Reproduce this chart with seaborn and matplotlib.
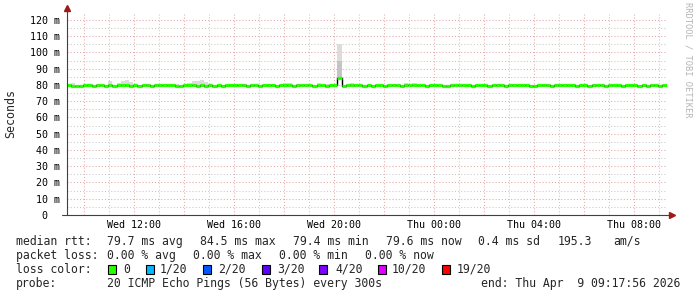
import numpy as np
import pandas as pd
import matplotlib
matplotlib.use("Agg")
import matplotlib.pyplot as plt
import matplotlib.dates as mdates
from matplotlib.ticker import MultipleLocator, FuncFormatter
from matplotlib.patches import Rectangle
import seaborn as sns

# SmokePing 風格: 24 小時, 每 10 分鐘一格 (ms)
start = pd.Timestamp("2026-04-08 09:17:56")
end = pd.Timestamp("2026-04-09 09:17:56")

median_ms = [
    79.7, 79.6, 79.2, 79.3, 79.7, 79.7, 79.6, 79.7, 79.7, 79.2, 79.7, 79.6,
    79.7, 80.3, 79.7, 79.6, 79.7, 79.2, 79.7, 79.7, 79.2, 79.7, 79.7, 79.7,
    79.7, 79.7, 79.6, 79.2, 79.7, 79.7, 79.7, 79.2, 79.7, 79.6, 79.7, 79.2,
    79.7, 79.2, 79.7, 79.7, 79.7, 79.7, 79.7, 79.2, 79.7, 79.7, 79.6, 79.7,
    79.7, 79.7, 79.2, 79.7, 79.7, 79.7, 79.2, 79.7, 79.7, 79.7, 79.7, 79.2,
    79.7, 79.7, 79.6, 79.7, 79.7, 84.5, 79.2, 79.7, 80.2, 79.7, 79.7, 79.6,
    79.7, 79.2, 79.7, 79.7, 79.2, 79.7, 79.7, 79.7, 79.2, 79.7, 79.7, 79.7,
    79.7, 79.7, 79.2, 79.7, 79.7, 79.7, 79.2, 79.2, 79.7, 79.7, 79.7, 79.7,
    79.7, 79.2, 79.7, 79.7, 79.7, 79.2, 79.7, 79.7, 79.7, 79.2, 79.7, 79.7,
    79.7, 79.7, 79.7, 79.2, 79.2, 79.7, 79.7, 79.7, 79.2, 79.7, 79.7, 79.7,
    79.7, 79.7, 79.2, 79.7, 79.7, 79.2, 79.7, 79.7, 79.7, 79.2, 79.7, 79.7,
    79.7, 79.2, 79.7, 79.7, 79.7, 79.2, 79.7, 79.2, 79.7, 79.7, 79.2, 79.7,
]
smoke_hi_ms = [
    79.7, 81.0, 79.2, 79.3, 79.7, 79.7, 79.6, 79.7, 79.7, 79.2, 82.2, 79.6,
    81.5, 82.5, 83.0, 81.8, 79.7, 79.2, 79.7, 79.7, 79.2, 79.7, 79.7, 79.7,
    79.7, 80.6, 80.6, 79.2, 79.7, 81.5, 82.5, 82.3, 83.2, 82.0, 79.7, 79.2,
    79.7, 79.2, 79.7, 79.7, 79.7, 80.7, 80.7, 79.2, 79.7, 79.7, 79.6, 79.7,
    79.7, 79.7, 79.2, 79.7, 81.5, 81.0, 79.2, 79.7, 79.7, 79.7, 80.6, 79.2,
    81.0, 79.7, 80.7, 79.7, 79.7, 105.5, 79.2, 79.7, 81.0, 80.6, 79.7, 79.6,
    79.7, 79.2, 79.7, 79.7, 79.2, 79.7, 79.7, 79.7, 79.2, 81.0, 79.7, 81.0,
    79.7, 79.7, 79.2, 79.7, 79.7, 79.7, 79.2, 79.2, 79.7, 79.7, 79.7, 79.7,
    79.7, 79.2, 79.7, 79.7, 79.7, 79.2, 79.7, 79.7, 79.7, 79.2, 79.7, 79.7,
    79.7, 79.7, 79.7, 79.2, 79.2, 79.7, 79.7, 79.7, 79.2, 79.7, 79.7, 79.7,
    79.7, 79.7, 79.2, 79.7, 79.7, 79.2, 79.7, 79.7, 79.7, 79.2, 79.7, 79.7,
    79.7, 79.2, 79.7, 79.7, 79.7, 79.2, 79.7, 79.2, 79.7, 79.7, 79.2, 79.7,
]
# 尖峰那格的煙霧較深的部分
smoke_mid_ms = list(median_ms)
smoke_mid_ms[65] = 95.0

loss_labels = ["0", "1/20", "2/20", "3/20", "4/20", "10/20", "19/20"]
loss_colors = ["#26ff00", "#00b8ff", "#0059ff", "#5e00ff", "#7e00ff", "#dd00ff", "#ff0000"]

rtt_parts = ["median rtt:", "79.7 ms avg", "84.5 ms max", "79.4 ms min", "79.6 ms now",
             "0.4 ms sd", "195.3", "am/s"]
loss_parts = ["packet loss:", "0.00 % avg", "0.00 % max", "0.00 % min", "0.00 % now"]
probe_parts = ["probe:", "20 ICMP Echo Pings (56 Bytes) every 300s"]
end_line = "end: Thu Apr  9 09:17:56 2026"

sns.set_style("white")
plt.rcParams['font.family'] = ['DejaVu Sans Mono', 'DejaVu Sans']

edges = pd.date_range(start, periods=len(median_ms) + 1, freq="10min")
xe = mdates.date2num(edges.to_pydatetime())
med = np.array(median_ms)
med_e = np.append(med, med[-1])

W, H = 697, 297
fig = plt.figure(figsize=(W / 100, H / 100), dpi=100)
ax = fig.add_axes([66.5 / W, 82 / H, 600 / W, 202 / H])

# 煙霧
ax.fill_between(xe, med_e, np.append(smoke_hi_ms, smoke_hi_ms[-1]), step="post",
                color="#dcdcdc", lw=0, zorder=2)
ax.fill_between(xe, med_e, np.append(smoke_mid_ms, smoke_mid_ms[-1]), step="post",
                color="#c4c4c4", lw=0, zorder=2)

# 中位數: 黑色階梯線 + 綠色 (loss 0) 粗線
df = pd.DataFrame({"t": xe, "median": med_e})
sns.lineplot(data=df, x="t", y="median", drawstyle="steps-post", color="black",
             lw=1, ax=ax, zorder=3)
ax.hlines(med, xe[:-1], xe[1:], colors=loss_colors[0], lw=2.3, zorder=4)

ax.set_xlim(mdates.date2num(start.to_pydatetime()), mdates.date2num(end.to_pydatetime()))
ax.set_ylim(0, 124.3)
ax.set_xlabel("")
ax.set_ylabel("")

ax.yaxis.set_major_locator(MultipleLocator(10))
ax.yaxis.set_minor_locator(MultipleLocator(5))
ax.yaxis.set_major_formatter(FuncFormatter(lambda v, p: "0  " if v == 0 else f"{int(round(v))} m"))
ax.xaxis.set_major_locator(mdates.HourLocator(byhour=range(0, 24, 2)))
ax.xaxis.set_minor_locator(mdates.HourLocator())


def fmt_x(v, p):
    d = mdates.num2date(v)
    return d.strftime("%a %H:%M") if d.hour % 4 == 0 else ""


ax.xaxis.set_major_formatter(FuncFormatter(fmt_x))

ax.grid(which="major", color="#e4a8a8", ls=(0, (1, 2)), lw=0.75)
ax.grid(which="minor", color="#c8c8c8", ls=(0, (1, 2)), lw=0.75)
ax.set_axisbelow(True)
ax.tick_params(axis="y", which="both", length=0, pad=4.8, labelsize=7.2, colors="black")
ax.tick_params(axis="x", which="both", length=2, width=0.7, pad=1.5, labelsize=7.2,
               color="#404040", labelcolor="black", direction="out")
for s in ax.spines.values():
    s.set_visible(False)

# 座標軸與箭頭
ax.plot([-0.0075, 1.008], [0, 0], transform=ax.transAxes, clip_on=False, color="#404040", lw=0.8, zorder=5)
ax.plot([0, 0], [0, 1.02], transform=ax.transAxes, clip_on=False, color="#404040", lw=0.8, zorder=5)
ax.plot([1.009], [0], marker=">", ms=4, color="#a01818", transform=ax.transAxes, clip_on=False, zorder=6)
ax.plot([0], [1.025], marker="^", ms=4, color="#a01818", transform=ax.transAxes, clip_on=False, zorder=6)

fig.text(11 / W, 1 - 114 / H, "Seconds", rotation=90, ha="center", va="center", size=8.4)
fig.text(688 / W, 1 - 60 / H, "RRDTOOL / TOBI OETIKER", rotation=270, ha="center", va="center",
         size=6.3, color="#b4b4b4")

# 圖例文字 (照 rrdtool 的欄位位置擺放)
fs = 8.3
rows_y = [241.5, 255.5, 269.5, 283]
rtt_x = [16, 107, 200, 293, 386, 478, 558, 613]
loss_x = [16, 107, 193, 279, 365]
for xs, s in zip(rtt_x, rtt_parts):
    fig.text(xs / W, 1 - rows_y[0] / H, s, ha="left", va="center", size=fs)
for xs, s in zip(loss_x, loss_parts):
    fig.text(xs / W, 1 - rows_y[1] / H, s, ha="left", va="center", size=fs)
fig.text(16 / W, 1 - rows_y[2] / H, "loss color:", ha="left", va="center", size=fs)
sq_x = [108, 146, 203, 262, 319, 378, 442]
lab_x = [123, 160, 218, 277, 335, 392, 457]
for xs, xl, lab, col in zip(sq_x, lab_x, loss_labels, loss_colors):
    fig.patches.append(Rectangle((xs / W, 1 - (rows_y[2] + 4) / H), 8 / W, 8.5 / H,
                                 transform=fig.transFigure, facecolor=col, edgecolor="black", lw=0.8))
    fig.text(xl / W, 1 - rows_y[2] / H, lab, ha="left", va="center", size=fs)
fig.text(16 / W, 1 - rows_y[3] / H, probe_parts[0], ha="left", va="center", size=fs)
fig.text(107 / W, 1 - rows_y[3] / H, probe_parts[1], ha="left", va="center", size=fs)
fig.text(680 / W, 1 - rows_y[3] / H, end_line, ha="right", va="center", size=fs)

fig.savefig("out.png", dpi=100, facecolor="white")
